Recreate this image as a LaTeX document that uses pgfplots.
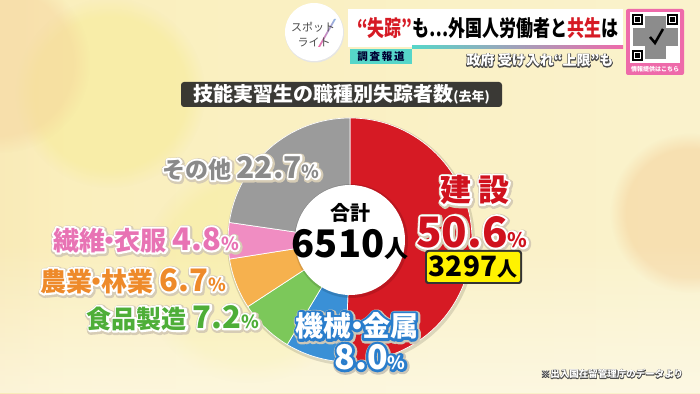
\documentclass[border=0pt]{standalone}
\usepackage{pgfplots}
\pgfplotsset{compat=1.18}
\usepackage{pgfplotstable}
\usetikzlibrary{fadings}
\usepackage{fontspec}
\setmainfont{Noto Sans CJK JP}
\definecolor{cRed}{HTML}{D61A24}
\definecolor{cBlue}{HTML}{3A90D6}
\definecolor{cGreen}{HTML}{7CC85A}
\definecolor{cOrange}{HTML}{F6B14E}
\definecolor{cPink}{HTML}{F08DC2}
\definecolor{cGray}{HTML}{9B9B9B}
\definecolor{tRed}{HTML}{D0121E}
\definecolor{tBlue}{HTML}{2A7CC8}
\definecolor{tGreen}{HTML}{4EAE38}
\definecolor{tOrange}{HTML}{EE8A2A}
\definecolor{tPink}{HTML}{E873B4}
\definecolor{tGray}{HTML}{8A8A8A}
\definecolor{shad}{HTML}{D6CBB4}
\definecolor{bg1}{HTML}{F5D29C}
\definecolor{bg2}{HTML}{FAEFBD}
\definecolor{bg3}{HTML}{FAF2CC}
\definecolor{bg4}{HTML}{F7E8C8}
\definecolor{bokY}{HTML}{F7EC9A}
\definecolor{bokO}{HTML}{F5CF98}
\definecolor{teal}{HTML}{56D6C9}
\definecolor{qrpink}{HTML}{EE6AAA}
\pgfdeclarehorizontalshading{bgh}{100bp}{color(0bp)=(bg1); color(30bp)=(bg2); color(75bp)=(bg3); color(100bp)=(bg4)}
\pgfplotstableread{
value color
50.6 cRed
8.0 cBlue
7.2 cGreen
6.7 cOrange
4.8 cPink
22.7 cGray
}\piedata
\newcommand\fs[1]{\fontsize{#1}{#1}\selectfont}
\newcommand\dt{\kern-.32em・\kern-.32em}
\newcommand\strk[3]{\special{pdf:literal direct q 2 Tr #1 w 1 j 1 J #2 RG}#3\special{pdf:literal direct Q}}
% white outline, coloured fill
\newcommand\olabel[3]{%
 \node[inner sep=0,text=shad] at ([shift={(0.8pt,-1pt)}]#1) {\strk{7}{0.84 0.80 0.71}{#3}};%
 \node[inner sep=0,text=white] at (#1) {\strk{4}{1 1 1}{#3}};%
 \node[inner sep=0,text=#2] at (#1) {#3};}
% coloured outline, white fill
\newcommand\wlabel[3]{%
 \node[inner sep=0,text=shad] at ([shift={(0.8pt,-1pt)}]#1) {\strk{8}{0.80 0.78 0.72}{#3}};%
 \node[inner sep=0,text=white] at (#1) {\strk{5}{#2}{#3}};%
 \node[inner sep=0,text=white] at (#1) {#3};}
\newcommand\slabel[3]{%
 \node[inner sep=0,text=white] at (#1) {\strk{#2}{0.3 0.3 0.3}{#3}};%
 \node[inner sep=0,text=white] at (#1) {#3};}
\begin{document}
\begin{tikzpicture}[x=1pt,y=1pt,font=\bfseries]
\useasboundingbox (0,0) rectangle (700,393);
\clip (0,0) rectangle (700,393);
\shade[shading=bgh] (0,0) rectangle (700,393);
\fill[bokY, path fading=circle with fuzzy edge 20 percent, opacity=0.6] (110,300) circle (95);
\fill[bokY, path fading=circle with fuzzy edge 20 percent, opacity=0.45] (250,120) circle (110);
\fill[bokO, path fading=circle with fuzzy edge 20 percent, opacity=0.5] (690,180) circle (80);
\fill[bokO, path fading=circle with fuzzy edge 20 percent, opacity=0.4] (0,330) circle (90);
\fill[white, path fading=north, opacity=0.45] (0,0) rectangle (700,150);
% header
\fill[white] (348,346) rectangle (623,384);
\shade[left color=teal, right color=qrpink] (412,344.5) rectangle (623,347);
\node[inner sep=0, yscale=1.3] at (488,365) {\fs{17}\textcolor{cRed}{“失踪”}も…外国人労働者と\textcolor{cRed}{共生}は};
\fill[teal] (350,329) rectangle (412,344);
\node[inner sep=0,text=black!80!blue] at (381,336.5) {\fs{10.5}調\,査\,報\,道};
\slabel{540,332.5}{1.6}{\fs{14}政府 受け入れ“上限”も}
\fill[black!10] (314.5,360) circle (29.5);
\fill[white] (314,361) circle (29);
\shade[left color=qrpink, right color=cBlue!60] (318,346) -- (320,346) -- (336,374) -- (334,374) -- cycle;
\node[inner sep=0,text=black!70,font=\mdseries] at (313,366) {\fs{11}スポット};
\node[inner sep=0,text=black!70,font=\mdseries] at (314,351) {\fs{11}ライト};
% QR
\fill[qrpink, rounded corners=2pt] (626,318) rectangle (684,384);
\fill[white] (630,330) rectangle (680,381);
\fill[black!45] (645,334) rectangle (666,377);
\fill[black!45] (633,347) rectangle (678,365);
\foreach \px/\py in {632/368, 667/368, 632/332}{
 \fill[black] (\px,\py) rectangle ++(11,11);
 \fill[white] (\px+1.8,\py+1.8) rectangle ++(7.4,7.4);
 \fill[black] (\px+3.3,\py+3.3) rectangle ++(4.4,4.4);}
\draw[black, line width=2.5pt] (650,356) -- (655,350) -- (663,364);
\node[inner sep=0,text=white] at (655,324) {\fs{6}情報提供はこちら};
% title
\fill[black!85, rounded corners=3pt, opacity=0.9] (181,286) rectangle (502,311);
\node[inner sep=0,text=white] at (341.5,298.5) {\fs{20}技能実習生の職種別失踪者数\fs{13}(去年)};
% donut shadow
\fill[black, opacity=0.12] (351,151.5) circle (124);
\begin{axis}[at={(0,0)}, anchor=origin, x=1pt, y=1pt, xmin=0, xmax=700, ymin=0, ymax=393, hide axis, clip=false]
\pgfplotstablegetrowsof{\piedata}
\pgfmathtruncatemacro\N{\pgfplotsretval-1}
\xdef\cum{0}
\pgfplotsforeachungrouped \i in {0,...,\N}{%
 \pgfplotstablegetelem{\i}{value}\of\piedata \let\v\pgfplotsretval
 \pgfplotstablegetelem{\i}{color}\of\piedata \let\c\pgfplotsretval
 \pgfmathsetmacro\a{90-3.6*\cum}
 \pgfmathsetmacro\b{90-3.6*(\cum+\v)}
 \edef\cmd{\noexpand\fill[\c, draw=white, line width=0.7pt] (axis cs:350,153) -- ++(\a:122pt) arc[start angle=\a, end angle=\b, radius=122pt] -- cycle;}
 \cmd
 \pgfmathsetmacro\cum{\cum+\v}
 \xdef\cum{\cum}
}
\end{axis}
\fill[black, opacity=0.12] (351,152) circle (57);
\fill[white] (350,153) circle (55);
\node[inner sep=0] at (350,180) {\fs{20}合計};
\node[inner sep=0] at (350,149) {\fs{38}6510\fs{24}人};
% labels
\olabel{475,203}{tRed}{\fs{31}建 設}
\olabel{472,161}{tRed}{\fs{42}50.6\fs{20}\%}
\fill[black!80, rounded corners=3pt] (425,109) rectangle (522,143);
\fill[yellow, rounded corners=2pt] (427,111) rectangle (520,141);
\node[inner sep=0] at (473,126) {\fs{28}3297\fs{20}人};
\wlabel{357,67}{0.16 0.49 0.80}{\fs{28}機械\dt 金属}
\wlabel{370,36}{0.16 0.49 0.80}{\fs{34}8.0\fs{18}\%}
\olabel{173,75}{tGreen}{\fs{25}食品製造 \fs{31}7.2\fs{18}\%}
\olabel{133,112}{tOrange}{\fs{26}農業\dt 林業 \fs{31}6.7\fs{18}\%}
\olabel{146,153}{tPink}{\fs{26}繊維\dt 衣服 \fs{31}4.8\fs{18}\%}
\olabel{241,225}{tGray}{\fs{23}その他 \fs{30}22.7\fs{18}\%}
\slabel{612,19}{1.2}{\fs{9.5}※出入国在留管理庁のデータより}
\end{tikzpicture}
\end{document}
